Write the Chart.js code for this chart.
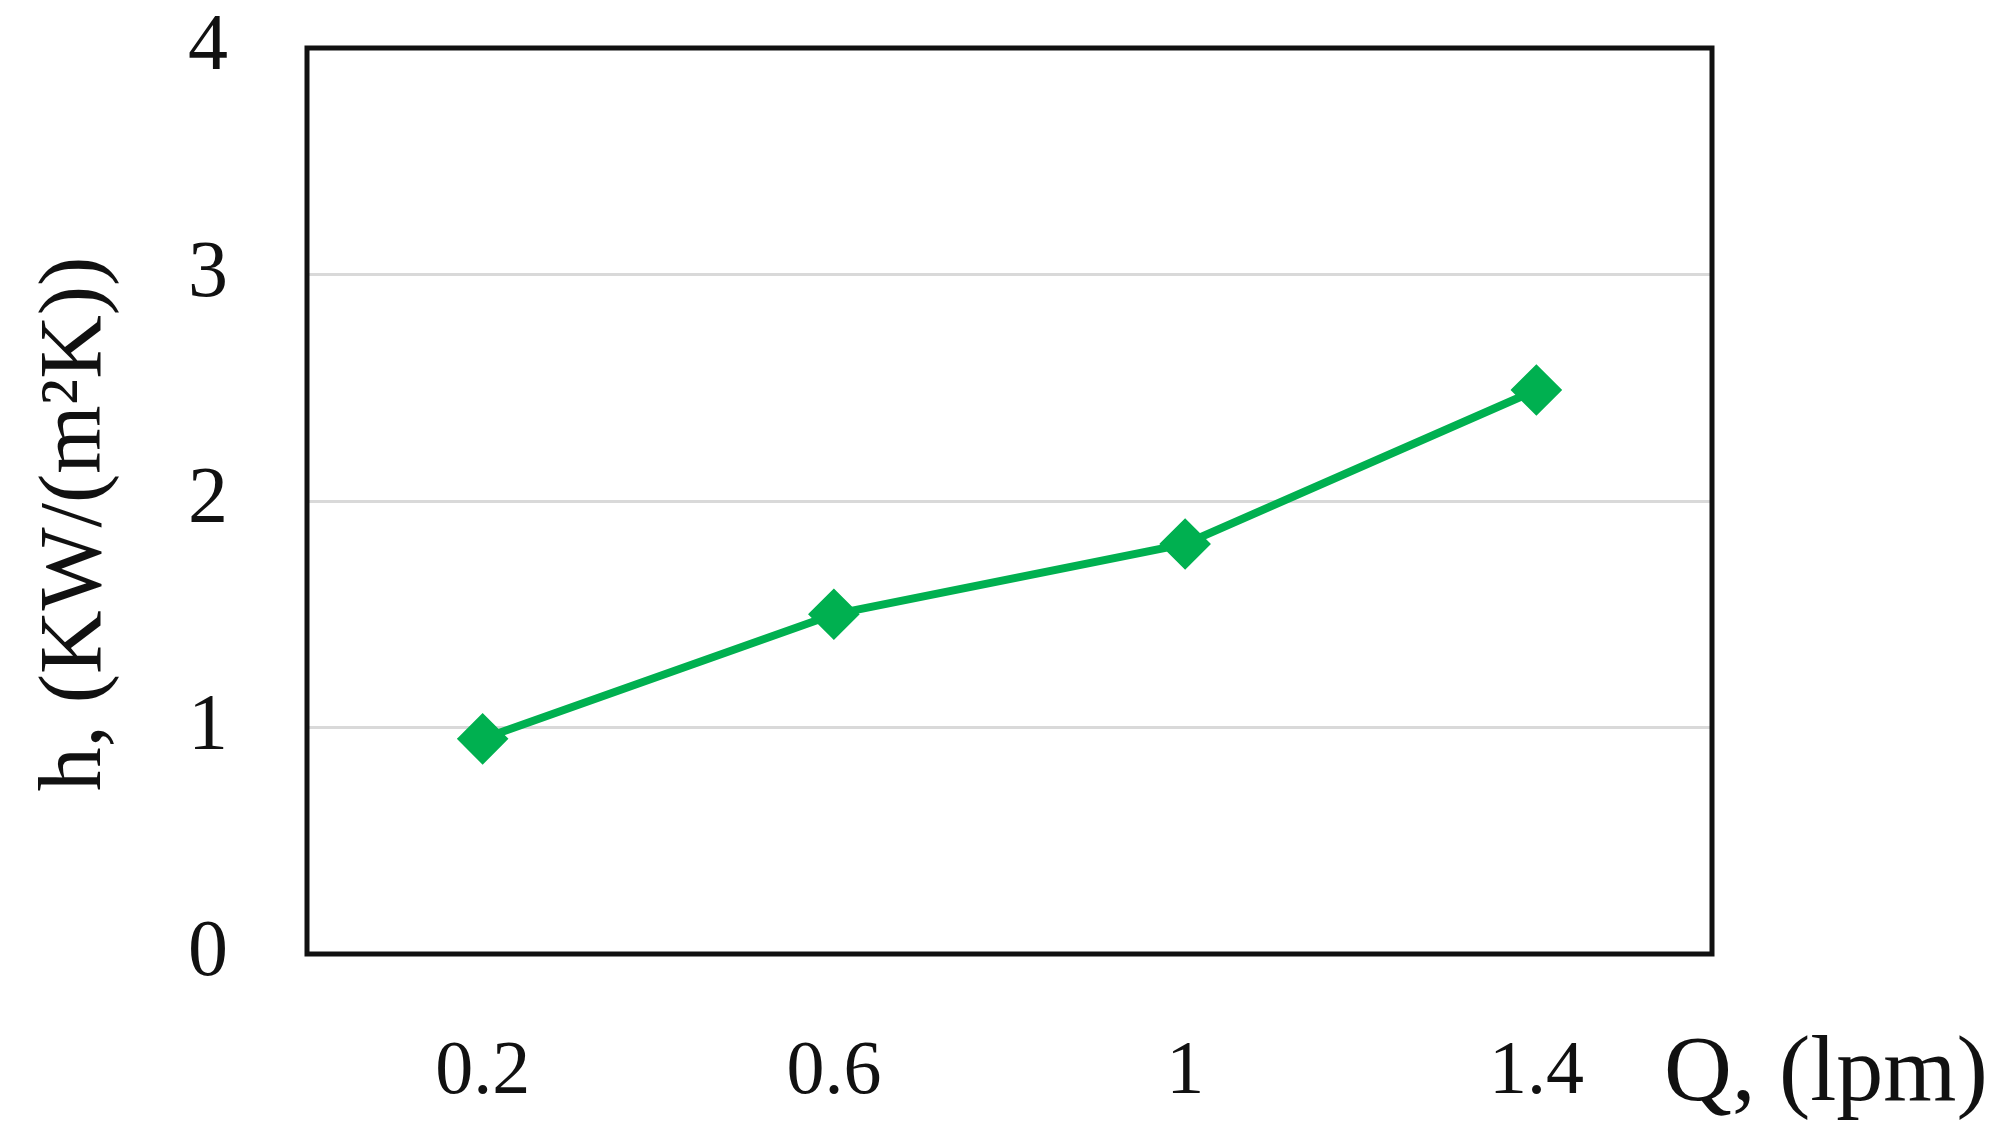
<!DOCTYPE html>
<html>
<head>
<meta charset="utf-8">
<script src="https://cdn.jsdelivr.net/npm/chart.js@4.4.1/dist/chart.umd.min.js"></script>
<style>
  html, body { margin: 0; padding: 0; background: #fff; }
  #wrap { width: 2004px; height: 1144px; }
</style>
</head>
<body>
<div id="wrap"><canvas id="hChart"></canvas></div>
<script>
'use strict';

// data
const flowRates = ['0.2', '0.6', '1', '1.4'];
const hValues = [0.95, 1.5, 1.81, 2.49];
const yTicks = [0, 1, 2, 3, 4];

const xTitle = 'Q, (lpm)';
const yTitle = 'h, (KW/(m\u00B2K))';

const serif = "'Liberation Serif', 'Times New Roman', serif";
const green = '#00b050';

// frame around the plot + the two axis titles
const framePlugin = {
    id: 'frame',
    beforeDatasetsDraw(chart) {
        const a = chart.chartArea;
        const ctx = chart.ctx;
        ctx.save();
        ctx.strokeStyle = '#111';
        ctx.lineWidth = 5;
        ctx.strokeRect(a.left, a.top, a.right - a.left, a.bottom - a.top);
        ctx.restore();
    },
    afterDraw(chart) {
        const a = chart.chartArea;
        const ctx = chart.ctx;
        ctx.save();
        ctx.fillStyle = '#111';
        ctx.font = '94px ' + serif;
        ctx.textAlign = 'left';
        ctx.textBaseline = 'alphabetic';
        ctx.fillText(xTitle, a.right - 48, a.bottom + 146);

        ctx.font = '88px ' + serif;
        ctx.translate(77, (a.top + a.bottom) / 2 + 23);
        ctx.rotate(-Math.PI / 2);
        ctx.textAlign = 'center';
        ctx.textBaseline = 'middle';
        ctx.fillText(yTitle, 0, 0);
        ctx.restore();
    }
};

document.addEventListener('DOMContentLoaded', function() {
    const ctx = document.getElementById('hChart').getContext('2d');
    new Chart(ctx, {
        type: 'line',
        data: {
            labels: flowRates,
            datasets: [{
                label: 'h',
                data: hValues,
                borderColor: green,
                backgroundColor: green,
                borderWidth: 8,
                pointStyle: 'rectRot',
                pointRadius: 23,
                pointBorderWidth: 4,
                pointBackgroundColor: green,
                pointBorderColor: green,
                tension: 0
            }]
        },
        options: {
            responsive: true,
            maintainAspectRatio: false,
            animation: false,
            layout: {
                padding: { top: 48, right: 292, left: 0, bottom: 0 }
            },
            plugins: {
                legend: { display: false },
                tooltip: { enabled: false }
            },
            scales: {
                x: {
                    type: 'category',
                    offset: true,
                    grid: { display: false, drawTicks: false },
                    border: { display: false },
                    ticks: {
                        color: '#111',
                        padding: 73,
                        maxRotation: 0,
                        autoSkip: false,
                        font: { family: serif, size: 76 }
                    },
                    afterFit(scale) { scale.height = 190; }
                },
                y: {
                    min: yTicks[0],
                    max: yTicks[yTicks.length - 1],
                    afterBuildTicks(scale) {
                        scale.ticks = yTicks.map(v => ({ value: v }));
                    },
                    grid: {
                        color: '#d9d9d9',
                        lineWidth: 3,
                        drawTicks: false
                    },
                    border: { display: false },
                    ticks: {
                        color: '#111',
                        padding: 79,
                        font: { family: serif, size: 80 }
                    },
                    afterFit(scale) {
                        scale.width = 307;
                        scale.paddingTop = 0;
                        scale.paddingBottom = 0;
                    }
                }
            }
        },
        plugins: [framePlugin]
    });
});
</script>
</body>
</html>
